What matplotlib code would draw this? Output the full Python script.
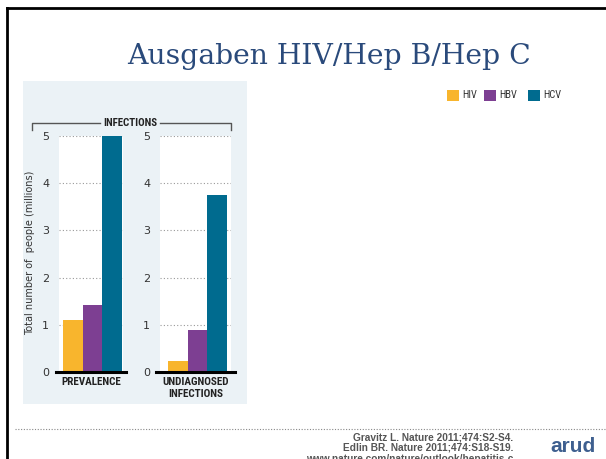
import matplotlib
matplotlib.use("Agg")
import matplotlib.pyplot as plt
from matplotlib.patches import Rectangle
from matplotlib.lines import Line2D

# data (millions of people)
viruses = ["HIV", "HBV", "HCV"]
prevalence = [1.1, 1.42, 5.0]
undiagnosed = [0.23, 0.9, 3.75]
colors = ["#F8B52D", "#7D3F92", "#006B8F"]
yticks = [0, 1, 2, 3, 4, 5]

W, H = 606, 459
fig = plt.figure(figsize=(W / 100, H / 100), dpi=100)

def fx(x):
    return x / W

def fy(y):
    return 1 - y / H

narrow = ["DejaVu Sans Condensed", "Liberation Sans Narrow", "Roboto Condensed", "Roboto"]

# slide frame
fig.add_artist(Line2D([fx(7), fx(7)], [fy(8), 0], color="black", lw=2))
fig.add_artist(Line2D([fx(7), 1], [fy(8), fy(8)], color="black", lw=2))

# title
fig.text(fx(329), fy(64), "Ausgaben HIV/Hep B/Hep C", family="DejaVu Serif",
         fontsize=20.3, color="#2A4A7B", ha="center", va="baseline")

# light panel
fig.add_artist(Rectangle((fx(23), fy(404)), fx(247 - 23), (404 - 81) / H,
                         facecolor="#EBF2F6", edgecolor="none", zorder=0))

def panel(x0, x1, vals, xlim, label):
    ax = fig.add_axes([fx(x0), fy(372), fx(x1 - x0), (372 - 136) / H])
    ax.set_facecolor("white")
    ax.bar(range(len(vals)), vals, width=1.0, color=colors, zorder=3)
    ax.set_xlim(*xlim)
    ax.set_ylim(0, 5)
    ax.set_yticks(yticks)
    ax.set_xticks([])
    ax.tick_params(axis="y", length=0, pad=7, labelsize=8, labelcolor="#333333")
    for s in ax.spines.values():
        s.set_visible(False)
    ax.grid(axis="y", linestyle=(0, (1, 2)), color="#999999", lw=0.8, zorder=1)
    ax.axhline(0, xmin=-0.05, xmax=1.05, color="black", lw=2.2, clip_on=False, zorder=4)
    ax.text(0.5, -0.022, label, transform=ax.transAxes, ha="center", va="top",
            family=narrow, fontweight="bold", fontsize=8, color="#222222",
            linespacing=1.25)
    return ax

ax1 = panel(59, 123, prevalence, (-0.7, 2.55), "PREVALENCE")
ax2 = panel(160, 231, undiagnosed, (-0.9, 2.7), "UNDIAGNOSED\nINFECTIONS")

# y label
fig.text(fx(30), fy(253), "Total number of  people (millions)", rotation=90,
         ha="center", va="center", fontsize=7, color="#333333")

# INFECTIONS bracket
br = "#555555"
fig.add_artist(Line2D([fx(32), fx(32), fx(100)], [fy(130), fy(123), fy(123)], color=br, lw=1))
fig.add_artist(Line2D([fx(160), fx(231), fx(231)], [fy(123), fy(123), fy(130)], color=br, lw=1))
fig.text(fx(130.5), fy(123), "INFECTIONS", family=narrow, fontweight="bold",
         fontsize=7.8, color="#222222", ha="center", va="center")

# legend
for name, c, lx in zip(viruses, colors, [447, 484, 528]):
    fig.add_artist(Rectangle((fx(lx), fy(101)), fx(12), 11 / H, facecolor=c,
                             edgecolor="none"))
    fig.text(fx(lx + 15), fy(95.5), name, family=narrow, fontsize=7.5,
             color="#333333", ha="left", va="center")

# footer
fig.add_artist(Line2D([fx(15), 1], [fy(429), fy(429)], color="#888888", lw=0.8,
                      linestyle=(0, (1, 1.5))))
refs = ["Gravitz L. Nature 2011;474:S2-S4.",
        "Edlin BR. Nature 2011;474:S18-S19.",
        "www.nature.com/nature/outlook/hepatitis-c"]
for i, r in enumerate(refs):
    fig.text(fx(513), fy(440 + i * 11), r, fontsize=7.3, fontweight="bold",
             color="#555555", ha="right", va="baseline", family="Liberation Sans")
fig.text(fx(573), fy(452), "arud", fontsize=15, fontweight="bold",
         color="#3E5F8F", ha="center", va="baseline", family="Liberation Sans")

fig.savefig("out.png", dpi=100)
